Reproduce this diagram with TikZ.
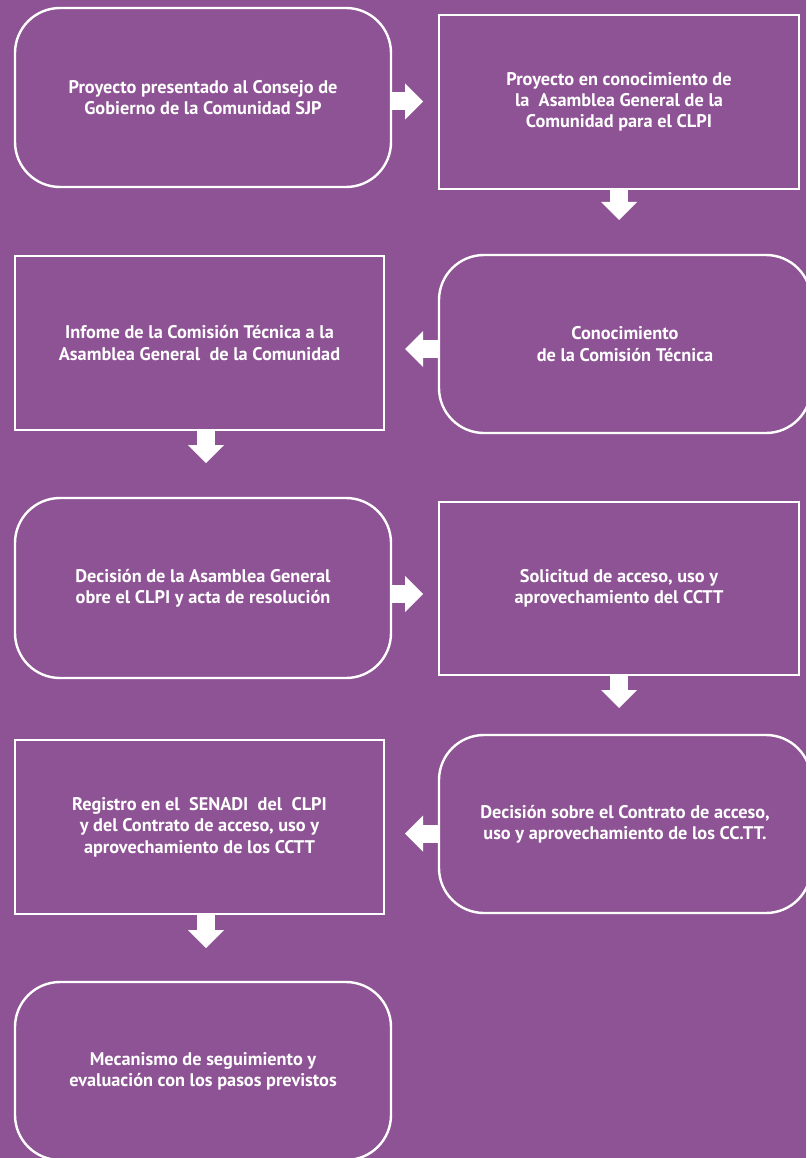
\documentclass[tikz,border=0pt]{standalone}
\usepackage{fontspec}
\setmainfont{PT Sans}
\usetikzlibrary{arrows.meta}
\definecolor{bgpurple}{HTML}{8E5394}
\tikzset{
  boxbase/.style={draw=white, line width=2.4pt, text=white, align=center, inner sep=0pt,
    font=\bfseries\fontsize{18.3}{21.3}\selectfont},
  roundbox/.style={boxbase, rounded corners=45pt},
  squarebox/.style={boxbase},
  flow/.style={draw=white, line width=18pt, line cap=butt,
    -{Triangle[length=18pt,width=36pt,line width=0pt]}}
}
\begin{document}
\begin{tikzpicture}[x=1pt,y=-1pt]
\fill[bgpurple] (0,0) rectangle (806,1158);
\useasboundingbox (0,0) rectangle (806,1158);

\node[roundbox, minimum width=376pt, minimum height=179pt] (b1) at (203,97.5)
  {Proyecto presentado al Consejo de\\Gobierno de la Comunidad SJP};
\node[squarebox, minimum width=360pt, minimum height=174pt] (b2) at (619,102)
  {Proyecto en conocimiento de\\la\ \ Asamblea General de la\\Comunidad para el CLPI};
\node[squarebox, minimum width=369pt, minimum height=174pt] (b3) at (199.5,343)
  {Infome de la Comisión Técnica a la\\Asamblea General\ \ de la Comunidad};
\node[roundbox, minimum width=372pt, minimum height=178pt] (b4) at (625,344)
  {Conocimiento\\de la Comisión Técnica};
\node[roundbox, minimum width=376pt, minimum height=180pt] (b5) at (203,588)
  {Decisión de la Asamblea General\\obre el CLPI y acta de resolución};
\node[squarebox, minimum width=360pt, minimum height=173pt] (b6) at (619,588.5)
  {Solicitud de acceso, uso y\\aprovechamiento del CCTT};
\node[squarebox, minimum width=369pt, minimum height=174pt] (b7) at (199.5,827)
  {Registro en el\ \ SENADI\ \ del\ \ CLPI\\y del Contrato de acceso, uso y\\aprovechamiento de los CCTT};
\node[roundbox, minimum width=372pt, minimum height=178pt] (b8) at (625,824)
  {Decisión sobre el Contrato de acceso,\\uso y aprovechamiento de los CC.TT.};
\node[roundbox, minimum width=376pt, minimum height=178pt] (b9) at (203,1071)
  {Mecanismo de seguimiento y\\evaluación con los pasos previstos};

\coordinate (t1) at (423,101.5);
\coordinate (t2) at (619,220);
\coordinate (t3) at (405,349);
\coordinate (t4) at (206,463);
\coordinate (t5) at (423,594);
\coordinate (t6) at (619,708);
\coordinate (t7) at (405,833.5);
\coordinate (t8) at (206,948);

\draw[flow] (b1.east |- t1) -- (t1);
\draw[flow] (b2.south) -- (t2);
\draw[flow] (b4.west |- t3) -- (t3);
\draw[flow] (t4 |- b3.south) -- (t4);
\draw[flow] (b5.east |- t5) -- (t5);
\draw[flow] (b6.south) -- (t6);
\draw[flow] (b8.west |- t7) -- (t7);
\draw[flow] (t8 |- b7.south) -- (t8);
\end{tikzpicture}
\end{document}
